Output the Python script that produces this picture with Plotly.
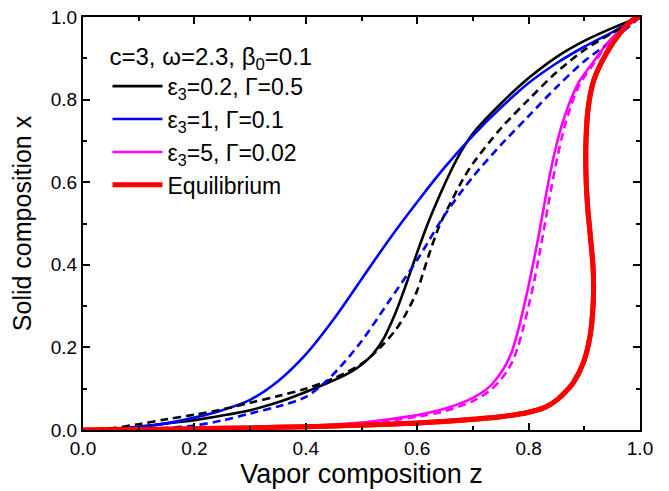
import plotly.graph_objects as go

# Curves are given as (vapor composition z, solid composition x) pairs
black_solid_z = [0, 0.05, 0.1, 0.15, 0.2, 0.25, 0.3, 0.35, 0.4, 0.45, 0.48, 0.5, 0.52, 0.54, 0.56, 0.58, 0.6, 0.62, 0.64, 0.66, 0.68, 0.7, 0.75, 0.8, 0.85, 0.9, 0.95, 1.0]
black_solid_x = [0, 0.002, 0.008, 0.016, 0.024, 0.035, 0.048, 0.067, 0.092, 0.12, 0.14, 0.158, 0.183, 0.222, 0.28, 0.352, 0.43, 0.503, 0.567, 0.626, 0.677, 0.718, 0.79, 0.852, 0.903, 0.942, 0.973, 1.0]

black_dash_z = [0, 0.05, 0.1, 0.15, 0.2, 0.25, 0.3, 0.35, 0.4, 0.45, 0.5, 0.53, 0.56, 0.58, 0.6, 0.62, 0.64, 0.66, 0.68, 0.7, 0.75, 0.8, 0.85, 0.9, 0.95, 1.0]
black_dash_x = [0, 0.004, 0.014, 0.026, 0.037, 0.05, 0.066, 0.082, 0.1, 0.125, 0.16, 0.195, 0.24, 0.282, 0.338, 0.42, 0.495, 0.55, 0.602, 0.645, 0.73, 0.80, 0.866, 0.92, 0.961, 1.0]

blue_solid_z = [0, 0.1, 0.15, 0.2, 0.25, 0.3, 0.35, 0.4, 0.45, 0.5, 0.55, 0.6, 0.65, 0.7, 0.75, 0.8, 0.85, 0.9, 0.95, 1.0]
blue_solid_x = [0, 0.007, 0.016, 0.03, 0.048, 0.073, 0.118, 0.183, 0.268, 0.365, 0.462, 0.552, 0.637, 0.713, 0.78, 0.84, 0.888, 0.928, 0.963, 1.0]

blue_dash_z = [0, 0.1, 0.15, 0.2, 0.25, 0.3, 0.35, 0.4, 0.43, 0.46, 0.5, 0.55, 0.6, 0.65, 0.7, 0.75, 0.8, 0.85, 0.9, 0.95, 1.0]
blue_dash_x = [0, 0.002, 0.005, 0.011, 0.023, 0.04, 0.057, 0.08, 0.11, 0.15, 0.215, 0.313, 0.412, 0.522, 0.613, 0.69, 0.76, 0.83, 0.893, 0.943, 1.0]

magenta_solid_z = [0, 0.2, 0.4, 0.5, 0.55, 0.6, 0.65, 0.7, 0.73, 0.75, 0.76, 0.77, 0.78, 0.79, 0.8, 0.81, 0.82, 0.83, 0.84, 0.85, 0.86, 0.87, 0.89, 0.92, 0.95, 1.0]
magenta_solid_x = [0, 0.003, 0.009, 0.018, 0.026, 0.036, 0.052, 0.078, 0.105, 0.138, 0.16, 0.19, 0.235, 0.29, 0.35, 0.415, 0.485, 0.56, 0.63, 0.69, 0.74, 0.78, 0.842, 0.898, 0.95, 1.0]

magenta_dash_z = [0, 0.2, 0.4, 0.5, 0.55, 0.6, 0.65, 0.7, 0.73, 0.75, 0.76, 0.77, 0.78, 0.79, 0.8, 0.81, 0.82, 0.83, 0.84, 0.85, 0.86, 0.87, 0.89, 0.92, 0.95, 1.0]
magenta_dash_x = [0, 0.002, 0.008, 0.016, 0.023, 0.032, 0.046, 0.07, 0.095, 0.122, 0.14, 0.163, 0.198, 0.245, 0.30, 0.36, 0.43, 0.505, 0.58, 0.65, 0.71, 0.76, 0.832, 0.893, 0.948, 1.0]

equil_z = [0, 0.1, 0.2, 0.3, 0.4, 0.5, 0.6, 0.7, 0.75, 0.8, 0.83, 0.851, 0.866, 0.88, 0.898, 0.91, 0.916, 0.916, 0.911, 0.906, 0.903, 0.903, 0.907, 0.917, 0.94, 0.964, 0.987, 1.0]
equil_x = [0, 0.001, 0.003, 0.005, 0.008, 0.012, 0.017, 0.026, 0.032, 0.043, 0.055, 0.073, 0.092, 0.114, 0.162, 0.225, 0.307, 0.387, 0.467, 0.54, 0.62, 0.7, 0.78, 0.847, 0.913, 0.961, 0.993, 1.0]

legend_title = "c=3, ω=2.3, β<sub>0</sub>=0.1"
names = ["ε<sub>3</sub>=0.2, Γ=0.5", "ε<sub>3</sub>=1, Γ=0.1", "ε<sub>3</sub>=5, Γ=0.02", "Equilibrium"]

BLUE = "#0000FF"
MAG = "#FF00FF"
RED = "#FF0000"
DASH = "8px,5px"

fig = go.Figure()
def add(z, x, color, width, dash, name, show):
    fig.add_trace(go.Scatter(x=z, y=x, mode="lines", name=name, showlegend=show,
                             line=dict(color=color, width=width, dash=dash, shape="spline", smoothing=0.9)))

add(black_solid_z, black_solid_x, "black", 2.6, "solid", names[0], True)
add(blue_solid_z, blue_solid_x, BLUE, 2.6, "solid", names[1], True)
add(magenta_solid_z, magenta_solid_x, MAG, 2.6, "solid", names[2], True)
add(equil_z, equil_x, RED, 5, "solid", names[3], True)
add(black_dash_z, black_dash_x, "black", 2.6, DASH, "bd", False)
add(blue_dash_z, blue_dash_x, BLUE, 2.6, DASH, "bld", False)
add(magenta_dash_z, magenta_dash_x, MAG, 2.6, DASH, "md", False)
fig.add_trace(go.Scatter(x=equil_z, y=equil_x, mode="lines", showlegend=False,
                         line=dict(color=RED, width=5, shape="spline", smoothing=0.9)))

axis_common = dict(range=[0, 1], showgrid=False, zeroline=False, showline=True, automargin=False,
                   linecolor="black", linewidth=2, mirror="ticks", ticks="inside",
                   ticklen=7, tickwidth=1.5, tickcolor="black", dtick=0.2, tickformat=".1f",
                   tickfont=dict(size=19, color="black"),
                   minor=dict(ticks="inside", dtick=0.1, ticklen=4, tickwidth=1.5, tickcolor="black"))

fig.update_xaxes(**axis_common, title=dict(text="Vapor composition z", font=dict(size=27, color="black"), standoff=2))
fig.update_yaxes(**axis_common, title=dict(text="Solid composition x", font=dict(size=25, color="black"), standoff=12))

fig.update_layout(
    width=669, height=491,
    margin=dict(l=83, r=29, t=17, b=61, autoexpand=False),
    plot_bgcolor="white", paper_bgcolor="white",
    font=dict(family="Liberation Sans, Arial, sans-serif", color="black"),
    legend=dict(x=0.044, y=0.96, xanchor="left", yanchor="top", itemwidth=50,
                bgcolor="rgba(0,0,0,0)", font=dict(size=23),
                title=dict(text=legend_title, font=dict(size=24)),
                tracegroupgap=0),
)

# remove the page's default 8px body margin so the figure sits at the window origin
fig.write_html("out.html", config={"displayModeBar": False},
               post_script="document.body.style.margin='0';")
